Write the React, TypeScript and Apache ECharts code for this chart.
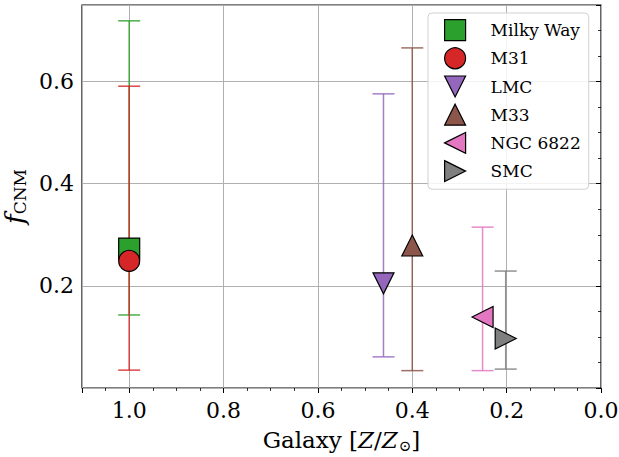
import React, { useEffect, useRef } from "react";
import * as echarts from "echarts";

const galaxies = ["Milky Way", "M31", "LMC", "M33", "NGC 6822", "SMC"];
const metallicity = [1.0, 1.0, 0.461, 0.4, 0.251, 0.202];
const fCNM = [0.273, 0.249, 0.205, 0.279, 0.139, 0.097];
const errLow = [0.143, 0.035, 0.061, 0.034, 0.034, 0.037];
const errHigh = [0.719, 0.591, 0.576, 0.666, 0.315, 0.229];
const colors = ["#2ca02c", "#d62728", "#9467bd", "#8c564b", "#e377c2", "#7f7f7f"];
const symbols = ["rect", "circle", "path://M0,0 L2,0 L1,2 Z", "path://M1,0 L2,2 L0,2 Z", "path://M0,1 L2,0 L2,2 Z", "path://M0,0 L2,1 L0,2 Z"];
const xTicks = [0, 0.2, 0.4, 0.6, 0.8, 1.0];
const yTicks = [0.2, 0.4, 0.6];

const FONT = "DejaVu Serif";

function hexToRgba(hex: string, a: number) {
  const n = parseInt(hex.slice(1), 16);
  return `rgba(${(n >> 16) & 255},${(n >> 8) & 255},${n & 255},${a})`;
}

function isTick(v: number, ticks: number[]) {
  return ticks.some((t) => Math.abs(t - v) < 1e-6);
}

export default function App() {
  const ref = useRef<HTMLDivElement>(null);
  useEffect(() => {
    if (!ref.current) return;
    const chart = echarts.init(ref.current, undefined, { renderer: "svg" });

    const errSeries = galaxies.map((name, i) => ({
      type: "custom",
      name: name + " err",
      xAxisIndex: 0,
      yAxisIndex: 0,
      z: 2,
      data: [[metallicity[i], errLow[i], errHigh[i]]],
      renderItem: (params: any, api: any) => {
        const x = api.value(0);
        const lo = api.coord([x, api.value(1)]);
        const hi = api.coord([x, api.value(2)]);
        const hw = 11;
        const st = { stroke: hexToRgba(colors[i], 0.85), lineWidth: 1.5 };
        return {
          type: "group",
          children: [
            { type: "line", shape: { x1: lo[0], y1: lo[1], x2: hi[0], y2: hi[1] }, style: st },
            { type: "line", shape: { x1: lo[0] - hw, y1: lo[1], x2: lo[0] + hw, y2: lo[1] }, style: st },
            { type: "line", shape: { x1: hi[0] - hw, y1: hi[1], x2: hi[0] + hw, y2: hi[1] }, style: st },
          ],
        };
      },
    }));

    const markerSeries = galaxies.map((name, i) => ({
      type: "scatter",
      name,
      xAxisIndex: 0,
      yAxisIndex: 0,
      z: 5 + i,
      symbol: symbols[i],
      symbolSize: 21,
      itemStyle: { color: colors[i], borderColor: "#000", borderWidth: 1.2, opacity: 1 },
      data: [[metallicity[i], fCNM[i]]],
    }));

    chart.setOption({
      animation: false,
      textStyle: { fontFamily: FONT },
      grid: {
        left: 82,
        right: 18,
        top: 5,
        bottom: 69,
        containLabel: false,
        outerBoundsMode: "none",
        show: true,
        borderColor: "#000",
        borderWidth: 1.2,
        backgroundColor: "transparent",
      },
      legend: {
        data: galaxies.map((name, i) => ({ name, icon: symbols[i] })),
        orient: "vertical",
        left: 428,
        top: 13,
        padding: [6, 8, 7, 16],
        itemWidth: 21,
        itemHeight: 21,
        itemGap: 6,
        backgroundColor: "rgba(255,255,255,0.85)",
        borderColor: "#d0d0d0",
        borderWidth: 1,
        borderRadius: 4,
        itemStyle: { borderColor: "#000", borderWidth: 1.2 },
        textStyle: { fontFamily: FONT, fontSize: 17, color: "#000", lineHeight: 21, padding: [0, 0, 0, 20] },
      },
      xAxis: [
        {
          type: "value",
          min: 0,
          max: 1.1,
          interval: 0.2,
          inverse: true,
          position: "bottom",
          name: "{r|Galaxy [}{i|Z}{r|/}{i|Z}{s|⊙}{r|]}",
          nameLocation: "middle",
          nameGap: 38,
          nameTextStyle: {
            rich: {
              r: { fontFamily: FONT, fontSize: 23, color: "#000" },
              i: { fontFamily: FONT, fontSize: 23, fontStyle: "italic", color: "#000" },
              s: { fontFamily: FONT, fontSize: 15, color: "#000", padding: [12, 0, 0, 1] },
            },
          },
          axisLine: { show: false },
          axisTick: { show: true, length: 5, lineStyle: { color: "#000", width: 1 } },
          axisLabel: {
            fontFamily: FONT,
            fontSize: 22,
            color: "#000",
            margin: 11,
            formatter: (v: number) => (isTick(v, xTicks) ? v.toFixed(1) : ""),
          },
          splitLine: { show: true, lineStyle: { color: "#b0b0b0", width: 1 } },
        },
        {
          type: "value",
          min: 0,
          max: 1.1,
          interval: 0.05,
          inverse: true,
          position: "bottom",
          axisLine: { show: false },
          axisTick: { show: true, length: 3, lineStyle: { color: "#000", width: 0.8 } },
          axisLabel: { show: false },
          splitLine: { show: false },
        },
      ],
      yAxis: [
        {
          type: "value",
          min: 0,
          max: 0.75,
          interval: 0.2,
          position: "left",
          name: "{f|f}{s|CNM}",
          nameLocation: "middle",
          nameRotate: 90,
          nameGap: 38,
          nameTextStyle: {
            rich: {
              f: { fontFamily: FONT, fontSize: 26, fontStyle: "italic", color: "#000" },
              s: { fontFamily: FONT, fontSize: 17, color: "#000", padding: [10, 0, 0, 0] },
            },
          },
          axisLine: { show: false },
          axisTick: { show: true, length: 5, lineStyle: { color: "#000", width: 1 } },
          axisLabel: {
            fontFamily: FONT,
            fontSize: 22,
            color: "#000",
            margin: 8,
            formatter: (v: number) => (isTick(v, yTicks) ? v.toFixed(1) : ""),
          },
          splitLine: { show: true, lineStyle: { color: "#b0b0b0", width: 1 } },
        },
        {
          type: "value",
          min: 0,
          max: 0.75,
          interval: 0.05,
          position: "left",
          axisLine: { show: false },
          axisTick: { show: true, length: 3, lineStyle: { color: "#000", width: 0.8 } },
          axisLabel: { show: false },
          splitLine: { show: false },
        },
      ],
      series: [...errSeries, ...markerSeries],
    });
    return () => chart.dispose();
  }, []);
  return <div ref={ref} style={{ width: 619, height: 457, position: "absolute", left: 0, top: 0 }} />;
}
